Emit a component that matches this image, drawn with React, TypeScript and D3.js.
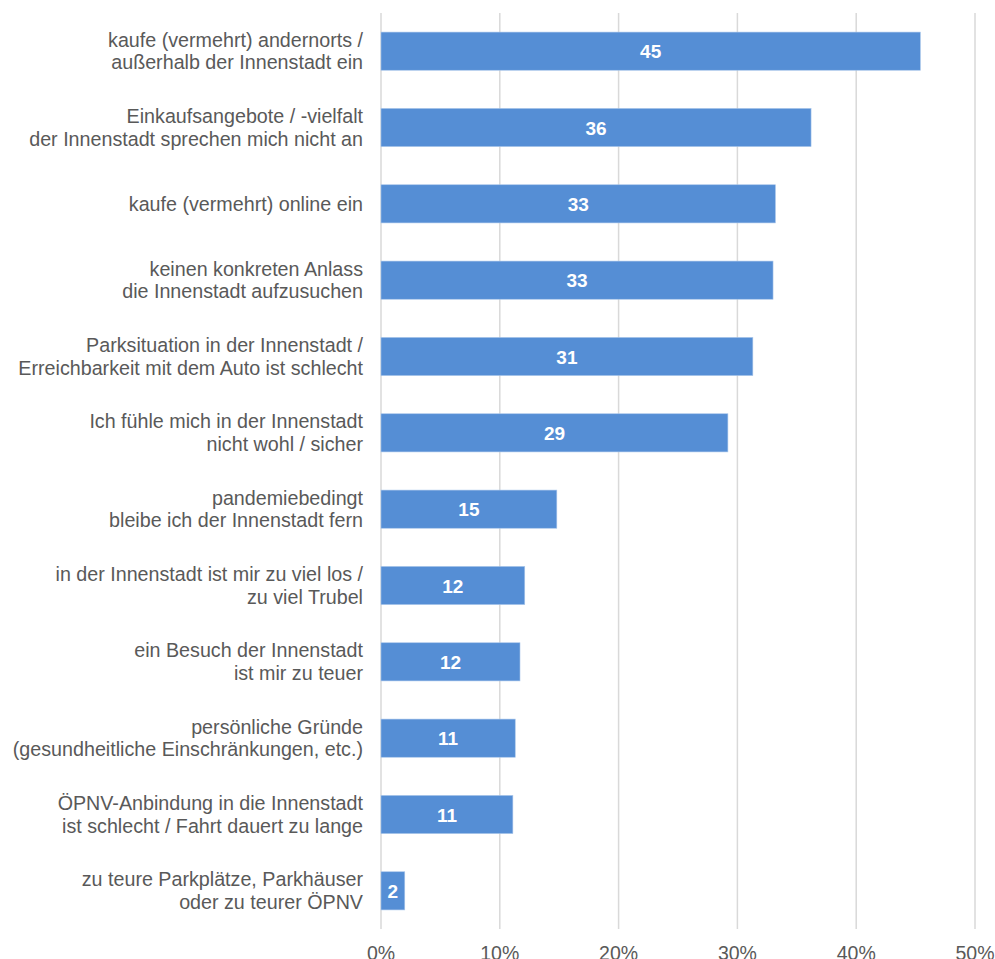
import React from "react"
import * as d3 from "d3"

const categories: string[][] = [
    ["kaufe (vermehrt) andernorts /", "außerhalb der Innenstadt ein"],
    ["Einkaufsangebote / -vielfalt", "der Innenstadt sprechen mich nicht an"],
    ["kaufe (vermehrt) online ein"],
    ["keinen konkreten Anlass", "die Innenstadt aufzusuchen"],
    ["Parksituation in der Innenstadt /", "Erreichbarkeit mit dem Auto ist schlecht"],
    ["Ich fühle mich in der Innenstadt", "nicht wohl / sicher"],
    ["pandemiebedingt", "bleibe ich der Innenstadt fern"],
    ["in der Innenstadt ist mir zu viel los /", "zu viel Trubel"],
    ["ein Besuch der Innenstadt", "ist mir zu teuer"],
    ["persönliche Gründe", "(gesundheitliche Einschränkungen, etc.)"],
    ["ÖPNV-Anbindung in die Innenstadt", "ist schlecht / Fahrt dauert zu lange"],
    ["zu teure Parkplätze, Parkhäuser", "oder zu teurer ÖPNV"],
]

// percent of respondents
const values = [45.4, 36.2, 33.2, 33.0, 31.3, 29.2, 14.8, 12.1, 11.7, 11.3, 11.1, 2.0]

const ticks = [0, 10, 20, 30, 40, 50]

const width = 995
const height = 959
const margin = {top: 13, right: 20, bottom: 30, left: 381}
const font = "'Liberation Sans', Arial, sans-serif"

const App = () => {
    const ids = categories.map((_, i) => String(i))

    const xScale = d3.scaleLinear()
        .domain([0, 50])
        .range([margin.left, 975])
    const yScale = d3.scaleBand()
        .domain(ids)
        .range([margin.top, height - margin.bottom])
        .paddingInner(0.5)
        .paddingOuter(0.25)

    const bw = yScale.bandwidth()

    return (
        <div style={{position: "absolute", left: 0, top: 0}}>
            <svg width={width} height={height} viewBox={`0 0 ${width} ${height}`} style={{display: "block"}}>
                {ticks.map(t => (
                    <g key={t}>
                        <line
                            x1={xScale(t)} x2={xScale(t)}
                            y1={margin.top} y2={height - margin.bottom}
                            stroke="#d9d9d9" strokeWidth={1.5}
                        />
                        <text
                            x={xScale(t)} y={960}
                            textAnchor="middle" fontFamily={font} fontSize={19.5} fill="#595959"
                        >{t}%</text>
                    </g>
                ))}
                {values.map((v, i) => {
                    const y0 = yScale(String(i)) as number
                    const cy = y0 + bw / 2
                    const lines = categories[i]
                    const firstBaseline = cy + 6.75 - (lines.length - 1) * 11.4
                    return (
                        <g key={i}>
                            <rect
                                x={xScale(0)} y={y0}
                                width={xScale(v) - xScale(0)} height={bw}
                                fill="#558ed5" stroke="#a9c6ea" strokeWidth={0.6}
                            />
                            <text
                                x={(xScale(0) + xScale(v)) / 2} y={cy + 7}
                                textAnchor="middle" fontFamily={font} fontSize={19}
                                fontWeight="bold" fill="#ffffff"
                            >{Math.round(v)}</text>
                            <text
                                textAnchor="end" fontFamily={font} fontSize={19.7} fill="#595959"
                            >
                                {lines.map((l, j) => (
                                    <tspan key={j} x={363} y={firstBaseline + j * 22.8}>{l}</tspan>
                                ))}
                            </text>
                        </g>
                    )
                })}
            </svg>
        </div>
    )
}

export default App
